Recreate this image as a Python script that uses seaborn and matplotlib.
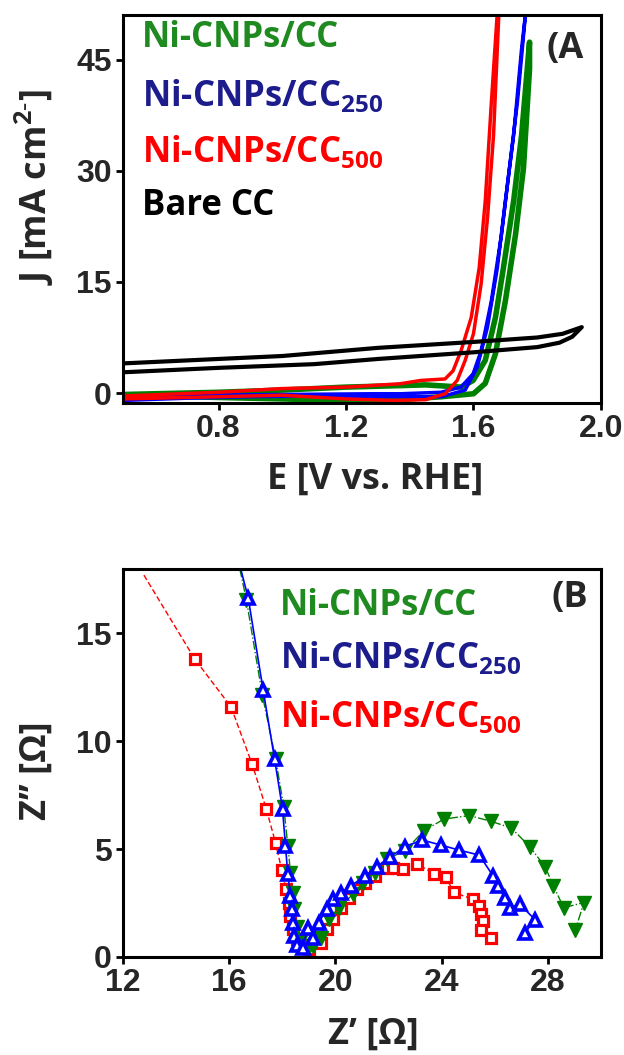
import matplotlib
matplotlib.use("Agg")
import matplotlib.pyplot as plt
import seaborn as sns

# Estilo general
sns.set_theme(style="ticks")
plt.rcParams['font.family'] = ['Open Sans', 'DejaVu Sans']
plt.rcParams['mathtext.fontset'] = 'custom'
plt.rcParams['mathtext.rm'] = 'Open Sans:bold'
plt.rcParams['mathtext.bf'] = 'Open Sans:bold'

# ---------------- (A) voltametría: E [V] y J [mA cm-2] ----------------
# Ni-CNPs/CC
E_cc_ida = [0.50, 0.70, 0.90, 1.00, 1.20, 1.40, 1.50, 1.60, 1.637, 1.669, 1.70, 1.732, 1.757, 1.776]
J_cc_ida = [-0.3, -0.5, -0.7, -0.8, -1.0, -0.8, -0.5, -0.1, 1.3, 5.3, 12.4, 21.4, 30.4, 43.8]
E_cc_vuelta = [1.776, 1.751, 1.726, 1.694, 1.669, 1.637, 1.599, 1.561, 1.45, 1.37, 1.20, 1.00, 0.80, 0.50]
J_cc_vuelta = [47.4, 34.8, 25.9, 16.9, 10.2, 4.4, 1.7, 0.8, 1.1, 1.0, 0.8, 0.4, 0.1, -0.2]

# Ni-CNPs/CC250
E_250_ida = [0.50, 0.70, 0.90, 1.10, 1.30, 1.50, 1.574, 1.612, 1.644, 1.675, 1.70, 1.726, 1.751, 1.764]
J_250_ida = [-1.0, -0.7, -0.5, -0.4, -0.5, -0.5, 0.4, 3.5, 8.9, 16.9, 25.9, 34.8, 46.5, 51.5]
E_250_vuelta = [1.764, 1.738, 1.713, 1.688, 1.656, 1.624, 1.599, 1.561, 1.498, 1.37, 1.28, 1.00, 0.70, 0.50]
J_250_vuelta = [51.5, 39.3, 30.4, 21.4, 12.4, 5.7, 2.6, 0.8, 0.1, -0.1, -0.1, -0.2, -0.3, -0.5]

# Ni-CNPs/CC500
E_500_ida = [0.50, 0.80, 1.00, 1.20, 1.35, 1.45, 1.511, 1.549, 1.574, 1.60, 1.624, 1.644, 1.663, 1.68]
J_500_ida = [-0.8, -0.5, -0.3, -0.8, -1.0, -0.9, -0.1, 1.7, 4.4, 8.0, 14.7, 23.6, 34.8, 51.5]
E_500_vuelta = [1.675, 1.656, 1.637, 1.618, 1.593, 1.561, 1.536, 1.511, 1.435, 1.37, 1.20, 1.00, 0.80, 0.50]
J_500_vuelta = [51.5, 39.1, 25.9, 16.9, 10.2, 5.7, 3.0, 1.9, 1.7, 1.25, 0.8, 0.6, 0.1, -0.4]

# Bare CC
E_bare_ida = [0.50, 0.80, 1.10, 1.30, 1.60, 1.80, 1.87, 1.91, 1.94]
J_bare_ida = [2.8, 3.4, 3.9, 4.6, 5.5, 6.2, 6.8, 7.6, 8.9]
E_bare_vuelta = [1.94, 1.88, 1.80, 1.60, 1.30, 1.00, 0.50]
J_bare_vuelta = [8.9, 8.0, 7.5, 6.9, 6.1, 5.0, 4.0]

# ---------------- (B) Nyquist: Z' y Z'' [ohm] ----------------
Zr_cc = [16.40, 16.65, 17.25, 17.75, 18.06, 18.21, 18.31, 18.39, 18.45, 18.55, 18.70, 18.92, 19.15,
         19.45, 19.75, 20.13, 20.66, 21.04, 21.49, 21.93, 22.63, 23.33, 24.09, 25.04, 25.86, 26.63,
         27.32, 27.90, 28.21, 28.60, 29.36, 29.04]
Zi_cc = [18.0, 16.55, 12.14, 9.18, 6.93, 5.15, 3.91, 2.98, 2.2, 1.4, 0.8, 0.26, 0.5,
         0.88, 1.74, 2.28, 2.9, 3.44, 3.91, 4.53, 4.92, 5.85, 6.39, 6.55, 6.29, 5.97,
         5.11, 4.17, 3.30, 2.28, 2.52, 1.26]

Zr_250 = [16.42, 16.72, 17.28, 17.71, 18.01, 18.12, 18.21, 18.31, 18.36, 18.39, 18.46, 18.54, 18.77,
          18.96, 19.14, 19.37, 19.67, 19.90, 20.20, 20.58, 21.11, 21.55, 22.06, 22.63, 23.26, 23.96,
          24.66, 25.42, 25.93, 26.12, 26.37, 26.56, 26.94, 27.52, 27.13]
Zi_250 = [18.06, 16.63, 12.37, 9.18, 6.86, 5.15, 3.83, 2.82, 2.2, 1.58, 0.96, 0.57, 0.42,
          1.35, 0.88, 1.58, 2.2, 2.67, 2.98, 3.29, 3.75, 4.17, 4.64, 5.11, 5.42, 5.19,
          4.95, 4.72, 3.77, 3.30, 2.75, 2.28, 2.44, 1.73, 1.10]

Zr_500 = [12.79, 14.71, 16.07, 16.87, 17.40, 17.75, 17.98, 18.13, 18.24, 18.31, 18.39, 18.54, 18.77,
          18.99, 19.45, 19.67, 19.90, 20.20, 20.51, 20.81, 21.11, 21.49, 21.95, 22.17, 22.55, 23.07,
          23.71, 24.15, 24.47, 25.17, 25.42, 25.49, 25.55, 25.49, 25.87]
Zi_500 = [17.7, 13.8, 11.59, 8.92, 6.86, 5.27, 4.03, 3.16, 2.51, 1.89, 1.27, 0.81, 0.5,
          0.37, 0.65, 1.27, 1.74, 2.28, 2.75, 3.13, 3.44, 3.75, 4.14, 4.14, 4.06, 4.32,
          3.85, 3.70, 2.99, 2.67, 2.36, 1.97, 1.65, 1.26, 0.86]

# Etiquetas
etq_cc = 'Ni-CNPs/CC'
etq_250 = 'Ni-CNPs/CC$_{250}$'
etq_500 = 'Ni-CNPs/CC$_{500}$'
etq_bare = 'Bare CC'

verde, azul, rojo = '#008000', '#0000ff', '#ff0000'
txt_verde, txt_azul, txt_rojo = '#1f8a1f', '#1c1c8c', '#ff0000'

fig = plt.figure(figsize=(6.24, 10.55), dpi=100)
axA = fig.add_axes([0.197, 0.618, 0.766, 0.368])
axB = fig.add_axes([0.197, 0.093, 0.766, 0.368])

fuente_txt = dict(family='Open Sans', weight='bold')


def estilo_ejes(ax):
    for s in ax.spines.values():
        s.set_linewidth(2.2)
        s.set_color('black')
    ax.tick_params(axis='both', direction='out', length=5, width=2, color='black',
                   labelsize=23, pad=3)
    for lab in ax.get_xticklabels() + ax.get_yticklabels():
        lab.set_fontweight('bold')
        lab.set_family('Liberation Sans')


# ---- Panel A ----
curvas = [
    (E_cc_ida + E_cc_vuelta, J_cc_ida + J_cc_vuelta, verde, 4.0),
    (E_250_ida + E_250_vuelta, J_250_ida + J_250_vuelta, azul, 2.5),
    (E_500_ida + E_500_vuelta, J_500_ida + J_500_vuelta, rojo, 2.5),
    (E_bare_ida + E_bare_vuelta, J_bare_ida + J_bare_vuelta, 'black', 3.0),
]
for E, J, c, lw in curvas:
    sns.lineplot(x=E, y=J, sort=False, estimator=None, color=c, linewidth=lw, ax=axA)

axA.set_xlim(0.5, 2.0)
axA.set_ylim(-1.35, 51.1)
axA.set_xticks([0.8, 1.2, 1.6, 2.0])
axA.set_yticks([0, 15, 30, 45])
axA.set_xticklabels(['0.8', '1.2', '1.6', '2.0'])
axA.set_yticklabels(['0', '15', '30', '45'])
estilo_ejes(axA)
axA.set_xlabel('E [V vs. RHE]', fontsize=26, va='center', **fuente_txt)
axA.xaxis.set_label_coords(0.527, -0.198)
axA.set_ylabel('J [mA cm$^{2\u2010}$]', fontsize=26, va='center', **fuente_txt)
axA.yaxis.set_label_coords(-0.186, 0.557)

for y, t, c in [(0.918, etq_cc, txt_verde), (0.766, etq_250, txt_azul),
                (0.621, etq_500, txt_rojo), (0.485, etq_bare, 'black')]:
    axA.text(0.04, y, t, color=c, fontsize=25, va='baseline', ha='left',
             transform=axA.transAxes, **fuente_txt)
axA.text(0.887, 0.889, '(A', fontsize=26, va='baseline', ha='left',
         transform=axA.transAxes, **fuente_txt)

# ---- Panel B ----
sns.lineplot(x=Zr_500, y=Zi_500, sort=False, estimator=None, color=rojo, linewidth=1,
             linestyle=(0, (4, 2)), marker='s', markersize=7.5, markerfacecolor='white',
             markeredgecolor=rojo, markeredgewidth=2.3, markevery=slice(1, None), ax=axB)
sns.lineplot(x=Zr_cc, y=Zi_cc, sort=False, estimator=None, color=verde, linewidth=1,
             linestyle='-.', marker='v', markersize=10, markerfacecolor=verde,
             markeredgecolor=verde, markeredgewidth=1, markevery=slice(1, None), ax=axB)
sns.lineplot(x=Zr_250, y=Zi_250, sort=False, estimator=None, color=azul, linewidth=1.2,
             linestyle='-', marker='^', markersize=9, markerfacecolor='white',
             markeredgecolor=azul, markeredgewidth=2.6, markevery=slice(1, None), ax=axB)

axB.set_xlim(12, 30)
axB.set_ylim(0, 18)
axB.set_xticks([12, 16, 20, 24, 28])
axB.set_yticks([0, 5, 10, 15])
axB.set_xticklabels(['12', '16', '20', '24', '28'])
axB.set_yticklabels(['0', '5', '10', '15'])
estilo_ejes(axB)
axB.set_xlabel('Z\u2019 [\u03a9]', fontsize=26, va='center', **fuente_txt)
axB.xaxis.set_label_coords(0.525, -0.201)
axB.set_ylabel('Z\u2019\u2019 [\u03a9]', fontsize=26, va='center', **fuente_txt)
axB.yaxis.set_label_coords(-0.18, 0.479)

for y, t, c in [(0.881, etq_cc, txt_verde), (0.745, etq_250, txt_azul),
                (0.593, etq_500, txt_rojo)]:
    axB.text(0.328, y, t, color=c, fontsize=25, va='baseline', ha='left',
             transform=axB.transAxes, **fuente_txt)
axB.text(0.897, 0.902, '(B', fontsize=26, va='baseline', ha='left',
         transform=axB.transAxes, **fuente_txt)

fig.savefig('out.png', dpi=100)
